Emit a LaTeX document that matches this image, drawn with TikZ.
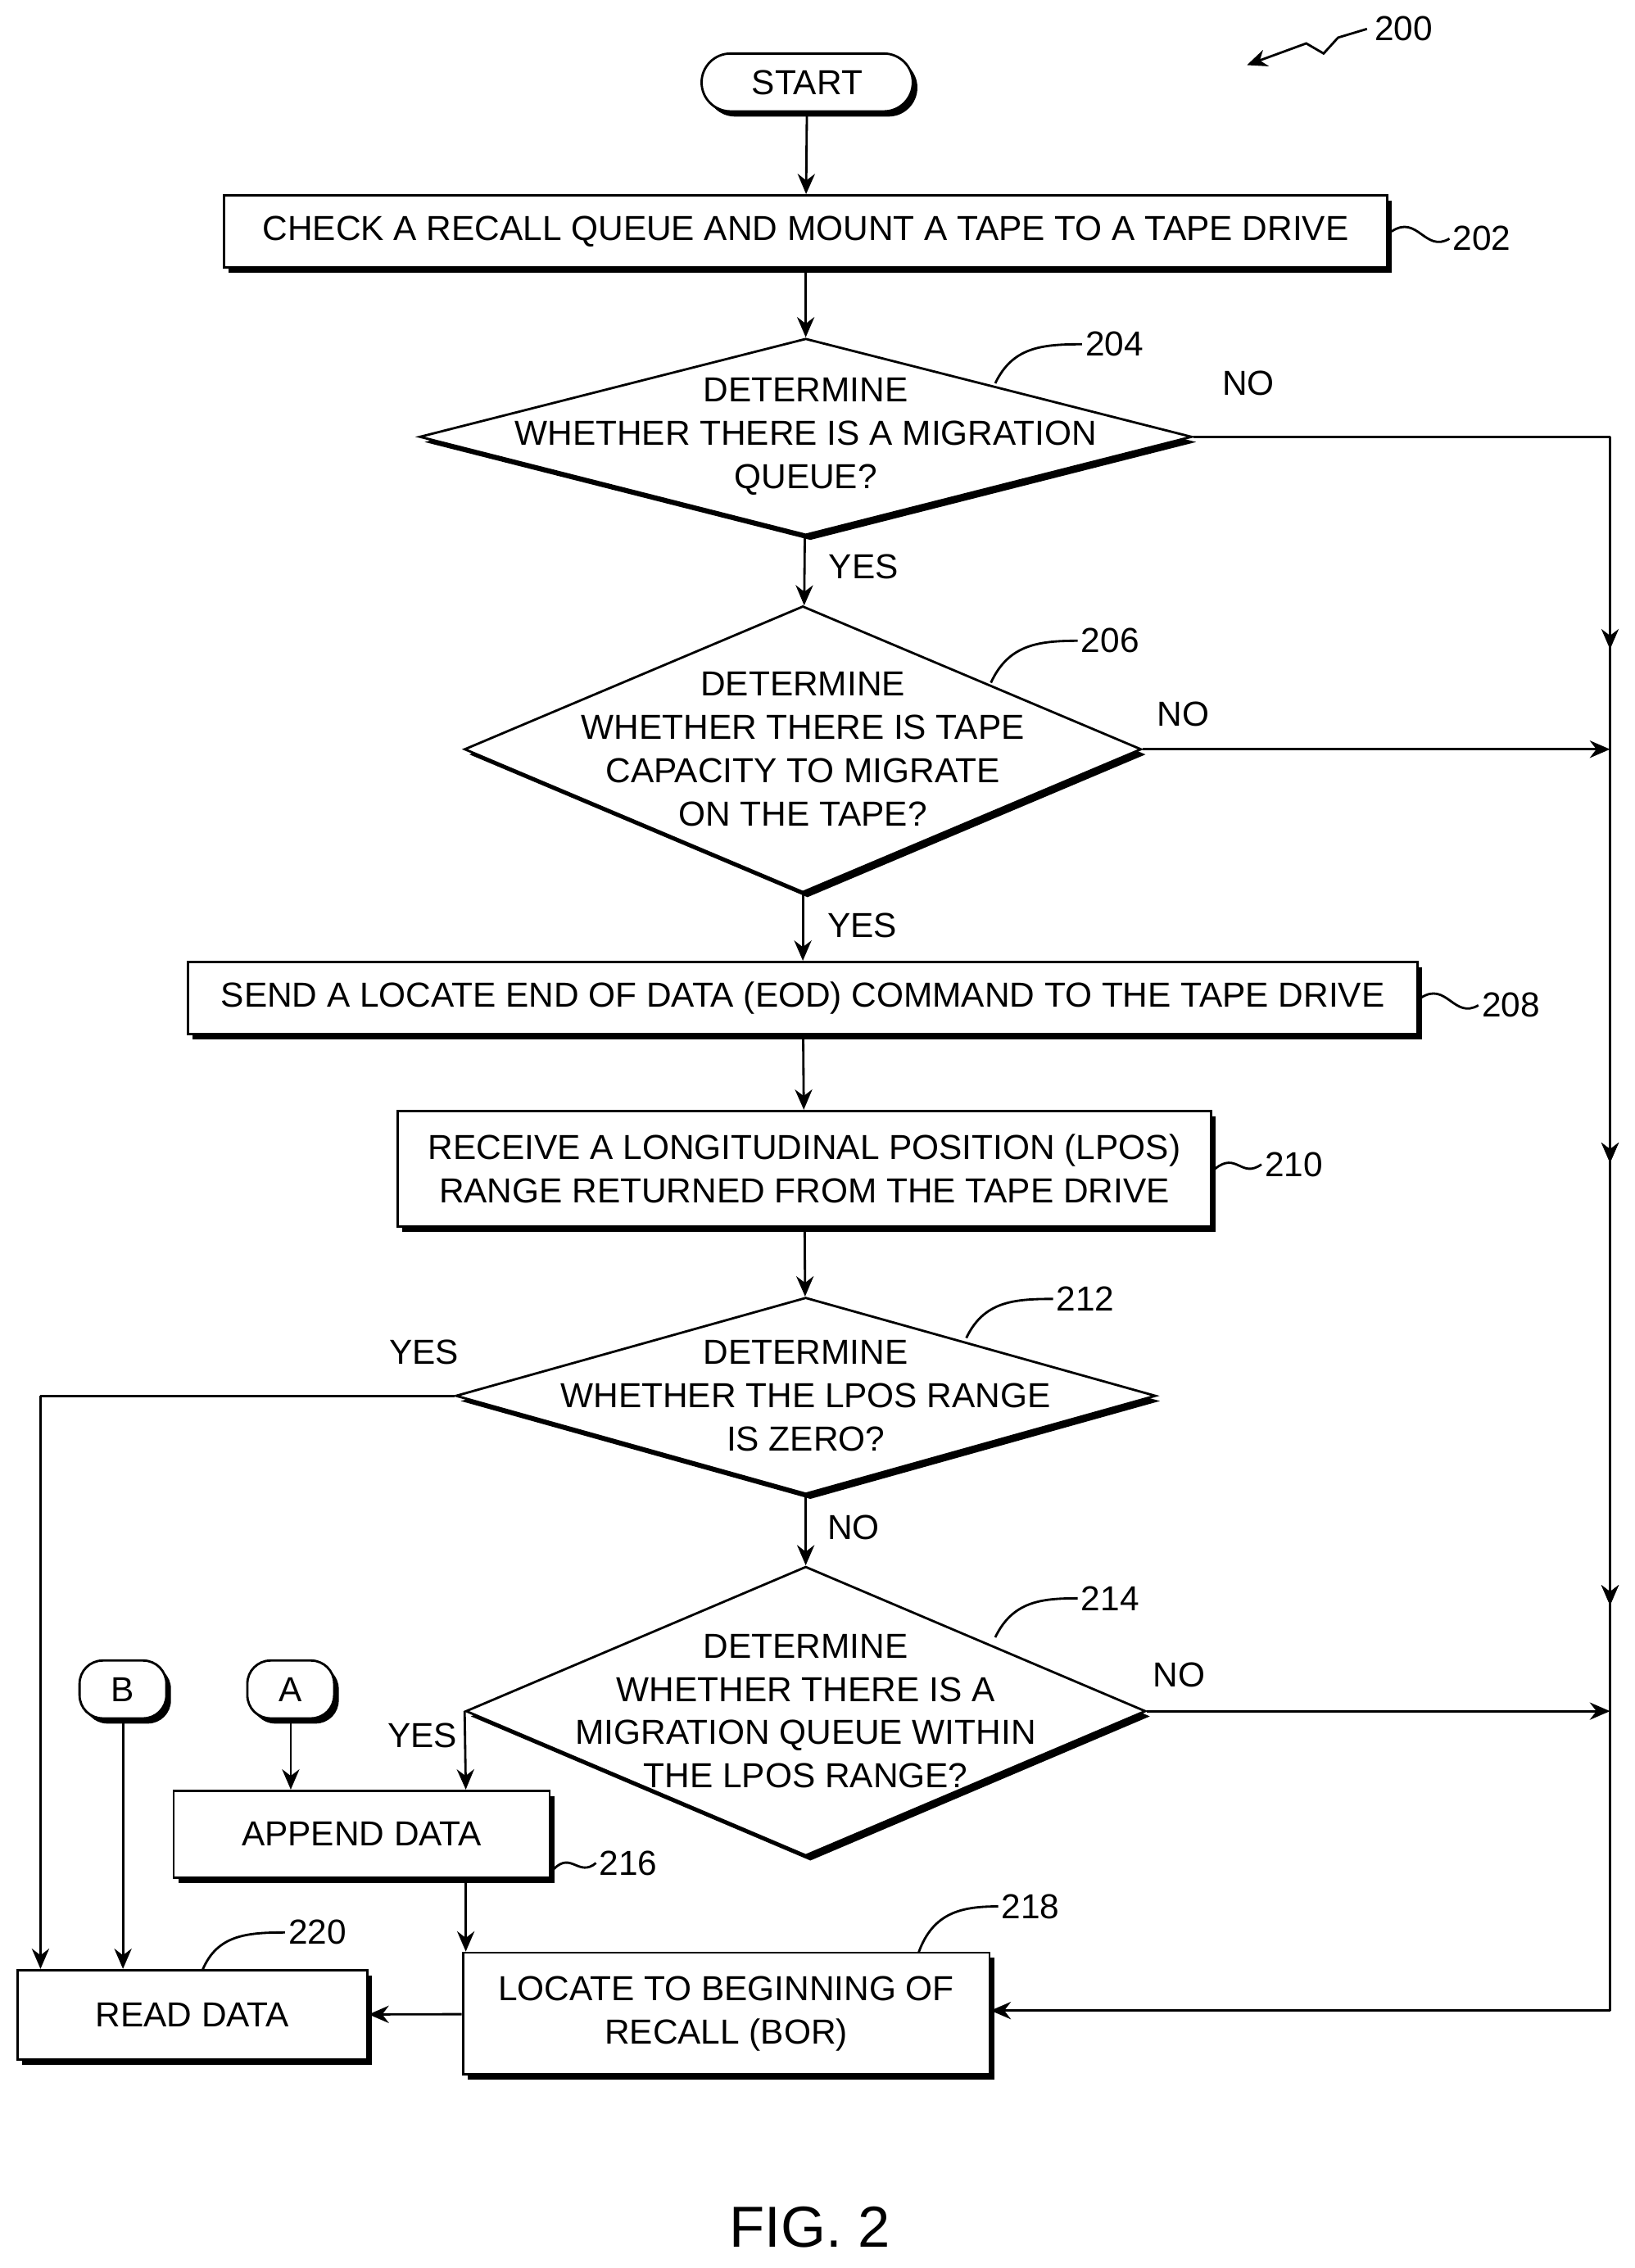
\documentclass[tikz,border=0pt]{standalone}
\usepackage{fontspec}
\setmainfont{Liberation Sans}
\usetikzlibrary{arrows.meta,shapes.geometric,shadows,decorations.markings}
\tikzset{
  shd/.style={drop shadow={shadow xshift=1.6pt,shadow yshift=-1.8pt,fill=black,opacity=1}},
  box/.style={draw,thick,fill=white,shd,inner sep=0pt},
  dia/.style={draw,thick,diamond,fill=white,shd,inner sep=0pt},
  lbl/.style={align=center,font=\fontsize{12}{15}\selectfont},
  arr/.style={thick,-{Stealth[length=7pt,width=6pt]}},
  ln/.style={thick},
  midarr/.style={thick,postaction={decorate},decoration={markings,mark=at position #1 with {\arrow{Stealth[length=7pt,width=6pt]}}}},
  num/.style={anchor=west,font=\fontsize{12}{15}\selectfont,inner sep=1pt},
}
\begin{document}
\begin{tikzpicture}[x=0.5pt,y=-0.5pt]
    \useasboundingbox (0,0) rectangle (1130,1568);
    % process nodes
    \node [box,rounded corners=10pt,minimum width=73pt,minimum height=20pt,lbl] (start) at (558,57) {START};
    \node [box,minimum width=402pt,minimum height=25pt,lbl] (b202) at (557,160) {CHECK A RECALL QUEUE AND MOUNT A TAPE TO A TAPE DRIVE};
    \node [dia,minimum width=267pt,minimum height=68pt] (d204) at (557,302) {};
    \node [lbl] at (d204) {DETERMINE\\WHETHER THERE IS A MIGRATION\\QUEUE?};
    \node [dia,minimum width=234pt,minimum height=99pt] (d206) at (555,518) {};
    \node [lbl] at (d206) {DETERMINE\\WHETHER THERE IS TAPE\\CAPACITY TO MIGRATE\\ON THE TAPE?};
    \node [box,minimum width=425pt,minimum height=25pt,lbl] (b208) at (555,690) {SEND A LOCATE END OF DATA (EOD) COMMAND TO THE TAPE DRIVE};
    \node [box,minimum width=281pt,minimum height=40pt,lbl] (b210) at (556,808) {RECEIVE A LONGITUDINAL POSITION (LPOS)\\RANGE RETURNED FROM THE TAPE DRIVE};
    \node [dia,minimum width=242pt,minimum height=68pt] (d212) at (557,965) {};
    \node [lbl] at (d212) {DETERMINE\\WHETHER THE LPOS RANGE\\IS ZERO?};
    \node [dia,minimum width=235pt,minimum height=100pt] (d214) at (557,1183) {};
    \node [lbl] at (d214) {DETERMINE\\WHETHER THERE IS A\\MIGRATION QUEUE WITHIN\\THE LPOS RANGE?};
    \node [box,minimum width=130pt,minimum height=30pt,lbl] (b216) at (250,1268) {APPEND DATA};
    \node [box,minimum width=182pt,minimum height=42pt,lbl] (b218) at (502,1392) {LOCATE TO BEGINNING OF\\RECALL (BOR)};
    \node [box,minimum width=121pt,minimum height=31pt,lbl] (b220) at (133,1393) {READ DATA};
    \node [box,rounded corners=8pt,minimum width=30pt,minimum height=20pt,lbl] (cb) at (85,1168) {B};
    \node [box,rounded corners=8pt,minimum width=30pt,minimum height=20pt,lbl] (ca) at (201,1168) {A};
    % corners
    \coordinate (r1) at (1113,302);
    \coordinate (r2) at (1113,518);
    \coordinate (r3) at (1113,1183);
    \coordinate (r4) at (1113,1390);
    \coordinate (l1) at (28,965);
    \coordinate (y214) at (322,1183);
    % connectors
    \draw [arr] (start) -- (b202);
    \draw [arr] (b202) -- (d204);
    \draw [arr] (d204) -- (d206);
    \draw [arr] (d206) -- (b208);
    \draw [arr] (b208) -- (b210);
    \draw [arr] (b210) -- (d212);
    \draw [arr] (d212) -- (d214);
    \draw [ln] (d204.east) -- (r1);
    \draw [midarr=0.68] (r1) -- (r2);
    \draw [midarr=0.43,midarr=0.89] (r2) -- (r3);
    \draw [ln] (r3) -- (r4);
    \draw [arr] (r4) -- (b218.east |- r4);
    \draw [arr] (d206.east) -- (r2);
    \draw [arr] (d214.east) -- (r3);
    \draw [ln] (d212.west) -- (l1);
    \draw [arr] (l1) -- (b220.north -| l1);
    \draw [arr] (cb) -- (b220.north -| cb);
    \draw [arr] (ca) -- (b216.north -| ca);
    \draw [arr] (d214.west) -- (b216.north -| y214);
    \draw [arr] (b216.south -| y214) -- (b218.north -| y214);
    \draw [arr] (b218) -- (b220);
    % branch labels
    \node [lbl] at (863,265) {NO};
    \node [lbl] at (597,392) {YES};
    \node [lbl] at (818,494) {NO};
    \node [lbl] at (596,640) {YES};
    \node [lbl] at (293,935) {YES};
    \node [lbl] at (590,1056) {NO};
    \node [lbl] at (815,1158) {NO};
    \node [lbl] at (292,1200) {YES};
    % reference numbers
    \draw [ln] (962,160) .. controls (980,148) and (985,175) .. (1002,165);
    \node [num] at (1002,165) {202};
    \draw [ln] (688,265) .. controls (700,240) and (720,238) .. (748,238);
    \node [num] at (748,238) {204};
    \draw [ln] (685,472) .. controls (697,446) and (717,443) .. (745,443);
    \node [num] at (745,443) {206};
    \draw [ln] (982,690) .. controls (1000,678) and (1005,705) .. (1022,695);
    \node [num] at (1022,695) {208};
    \draw [ln] (840,808) .. controls (855,796) and (858,815) .. (872,805);
    \node [num] at (872,805) {210};
    \draw [ln] (668,925) .. controls (680,900) and (700,898) .. (728,898);
    \node [num] at (728,898) {212};
    \draw [ln] (688,1132) .. controls (700,1107) and (720,1105) .. (745,1105);
    \node [num] at (745,1105) {214};
    \draw [ln] (383,1292) .. controls (395,1280) and (400,1298) .. (412,1288);
    \node [num] at (412,1288) {216};
    \draw [ln] (635,1350) .. controls (645,1322) and (665,1318) .. (690,1318);
    \node [num] at (690,1318) {218};
    \draw [ln] (140,1362) .. controls (150,1338) and (170,1336) .. (197,1336);
    \node [num] at (197,1336) {220};
    \draw [thick,-{Stealth[length=7pt,width=6pt]}] (945,20) -- (925,26) -- (915,37) -- (903,30) -- (862,45);
    \node [num] at (948,20) {200};
    \node [font=\fontsize{20}{24}\selectfont] (fig) at (560,1540) {FIG. 2};
\end{tikzpicture}
\end{document}
